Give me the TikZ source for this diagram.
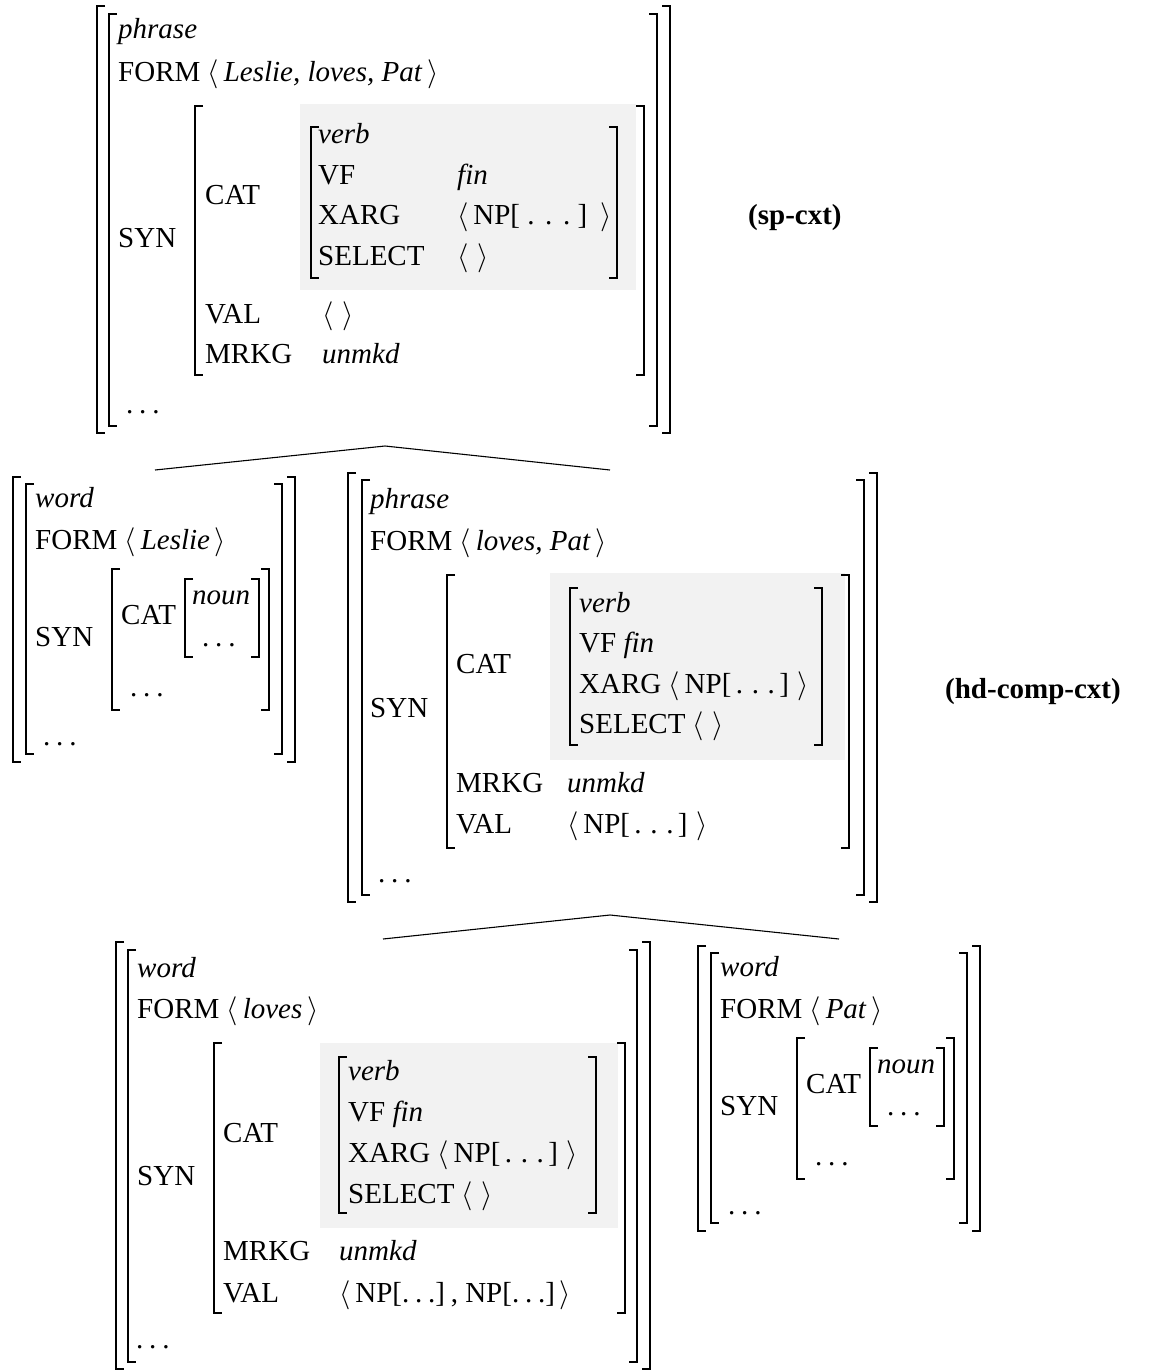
\RequirePackage{fix-cm}
\documentclass[tikz,border=0pt]{standalone}
\usepackage{fontspec}
\setmainfont{Liberation Serif}
\newcommand{\fs}{\fontsize{29}{35}\selectfont}
\newcommand{\dd}{.\kern0.2em.\kern0.2em.}
\newcommand{\wdd}{.\kern0.3em.\kern0.3em.}
\newcommand{\el}{$\langle\hspace{0.3em}\rangle$}
\newcommand{\npw}{$\langle$\,NP[\hspace{0.25em}.\kern0.37em.\kern0.37em.\hspace{0.25em}]\hspace{0.45em}$\rangle$}
\newcommand{\npv}{$\langle$\,NP[\hspace{0.15em}\wdd\hspace{0.15em}]\hspace{0.3em}$\rangle$}
\newcommand{\lbrk}[3]{\draw[brk] ({#1+8},#2) -- (#1,#2) -- (#1,#3) -- ({#1+8},#3);}
\newcommand{\rbrk}[3]{\draw[brk] ({#1-8},#2) -- (#1,#2) -- (#1,#3) -- ({#1-8},#3);}
\tikzset{
  t/.style={anchor=base west, inner sep=0pt, font=\fs},
  brk/.style={line width=2.3pt},
  tree/.style={line width=1.1pt},
  shade/.style={fill=gray!10, draw=none}
}
\newcommand{\wordavm}[4]{%
\begin{scope}[shift={(#2,#3)}]
 \lbrk{0}{0}{285} \rbrk{282}{0}{285}
 \lbrk{13}{7}{277} \rbrk{269}{7}{277}
 \node[t] (#1w) at (22,30) {\textit{word}};
 \node[t] (#1f) at (22,72) {FORM $\langle$\,\textit{#4}\,$\rangle$};
 \node[t] (#1s) at (22,169) {SYN};
 \lbrk{99}{92}{233} \rbrk{256}{92}{233}
 \node[t] (#1c) at (108,147) {CAT};
 \lbrk{172}{102}{180} \rbrk{246}{102}{180}
 \node[t] (#1n) at (179,127) {\textit{noun}};
 \node[t] (#1nd) at (189,169) {\dd};
 \node[t] (#1sd) at (117,219) {\dd};
 \node[t] (#1od) at (30,268) {\dd};
\end{scope}}
\begin{document}
\begin{tikzpicture}[x=1pt,y=-1pt]
\useasboundingbox (0,0) rectangle (1157,1371);
% ---------- gray boxes
\fill[shade] (300,104) rectangle (636,290);
\fill[shade] (550,573) rectangle (845,760);
\fill[shade] (320,1043) rectangle (618,1228);
% ---------- top AVM
\lbrk{97}{6}{433} \rbrk{670}{6}{433}
\lbrk{109}{14}{426} \rbrk{657}{14}{426}
\node[t] (Tph) at (118,38) {\textit{phrase}};
\node[t] (Tfm) at (118,81) {FORM $\langle$\,\textit{Leslie, loves, Pat}\,$\rangle$};
\node[t] (Tsyn) at (118,247) {SYN};
\lbrk{195}{106}{375} \rbrk{644}{106}{375}
\node[t] (Tcat) at (205,204) {CAT};
\lbrk{311}{127}{278} \rbrk{617}{127}{278}
\node[t] (Tverb) at (318,143) {\textit{verb}};
\node[t] (Tvf) at (318,184) {VF};
\node[t] (Tfin) at (457,184) {\textit{fin}};
\node[t] (Txarg) at (318,224) {XARG};
\node[t] (Txv) at (457,224) {\npw};
\node[t] (Tsel) at (318,265) {SELECT};
\node[t] (Tsv) at (457,265) {\el};
\node[t] (Tval) at (205,323) {VAL};
\node[t] (Tvv) at (322,323) {\el};
\node[t] (Tmrkg) at (205,363) {MRKG};
\node[t] (Tmv) at (322,363) {\textit{unmkd}};
\node[t] (Tdots) at (126,413) {\dd};
\node[t] (sp) at (748,224) {\textbf{(sp-cxt)}};
% ---------- tree 1
\coordinate (apex1) at (385,446);
\coordinate (l1) at (155,470);
\coordinate (r1) at (610,470);
\draw[tree] (l1) -- (apex1) -- (r1);
% ---------- Leslie
\wordavm{L}{13}{477}{Leslie}
% ---------- middle phrase
\lbrk{348}{473}{902} \rbrk{877}{473}{902}
\lbrk{362}{480}{895} \rbrk{864}{480}{895}
\node[t] (Mph) at (370,508) {\textit{phrase}};
\node[t] (Mfm) at (370,550) {FORM $\langle$\,\textit{loves, Pat}\,$\rangle$};
\node[t] (Msyn) at (370,717) {SYN};
\lbrk{447}{575}{848} \rbrk{849}{575}{848}
\node[t] (Mcat) at (456,673) {CAT};
\lbrk{570}{588}{745} \rbrk{822}{588}{745}
\node[t] (Mverb) at (579,612) {\textit{verb}};
\node[t] (Mvf) at (579,652) {VF \textit{fin}};
\node[t] (Mxarg) at (579,693) {XARG\hspace{0.25em}\npv};
\node[t] (Msel) at (579,733) {SELECT \el};
\node[t] (Mmrkg) at (456,792) {MRKG};
\node[t] (Mmv) at (567,792) {\textit{unmkd}};
\node[t] (Mval) at (456,833) {VAL};
\node[t] (Mvv) at (567,833) {\npv};
\node[t] (Mdots) at (378,882) {\dd};
\node[t] (hc) at (945,698) {\textbf{(hd-comp-cxt)}};
% ---------- tree 2
\coordinate (apex2) at (610,915);
\coordinate (l2) at (383,939);
\coordinate (r2) at (839,939);
\draw[tree] (l2) -- (apex2) -- (r2);
% ---------- bottom loves
\lbrk{116}{942}{1369} \rbrk{650}{942}{1369}
\lbrk{128}{950}{1362} \rbrk{637}{950}{1362}
\node[t] (Bw) at (137,977) {\textit{word}};
\node[t] (Bfm) at (137,1018) {FORM $\langle$\,\textit{loves}\,$\rangle$};
\node[t] (Bsyn) at (137,1185) {SYN};
\lbrk{214}{1043}{1313} \rbrk{625}{1043}{1313}
\node[t] (Bcat) at (223,1142) {CAT};
\lbrk{339}{1057}{1213} \rbrk{596}{1057}{1213}
\node[t] (Bverb) at (348,1080) {\textit{verb}};
\node[t] (Bvf) at (348,1121) {VF \textit{fin}};
\node[t] (Bxarg) at (348,1162) {XARG\hspace{0.25em}\npv};
\node[t] (Bsel) at (348,1203) {SELECT \el};
\node[t] (Bmrkg) at (223,1260) {MRKG};
\node[t] (Bmv) at (339,1260) {\textit{unmkd}};
\node[t] (Bval) at (223,1302) {VAL};
\node[t] (Bvv) at (339,1302) {$\langle$\,NP[\dd]\hspace{0.2em},\hspace{0.25em}NP[\dd]\,$\rangle$};
\node[t] (Bdots) at (136,1348) {\dd};
% ---------- Pat
\wordavm{P}{698}{946}{Pat}
\end{tikzpicture}
\end{document}
